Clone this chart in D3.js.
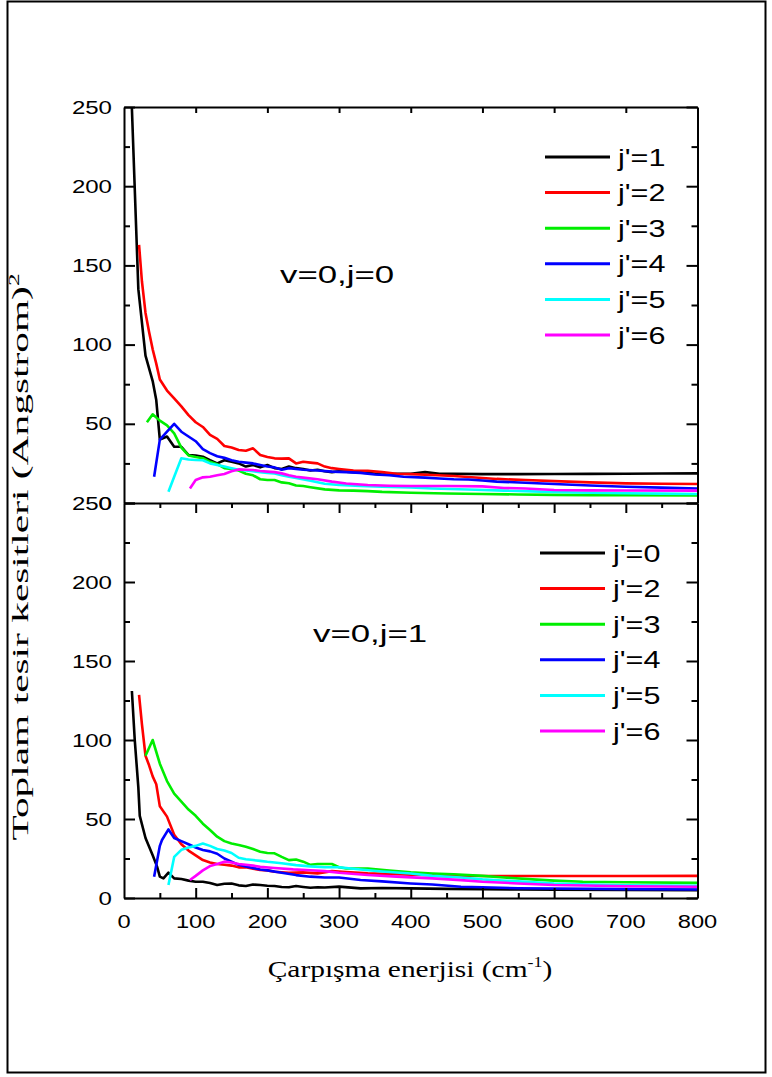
<!DOCTYPE html>
<html>
<head>
<meta charset="utf-8">
<script src="https://cdn.jsdelivr.net/npm/d3@7"></script>
<style>
  html, body { margin: 0; padding: 0; background: #fff; }
  svg { display: block; }
</style>
</head>
<body>
<svg id="chart" width="772" height="1077"></svg>
<script>
// ---------------- DATA ----------------
// x: collision energy (cm^-1), y: total cross section (Angstrom^2)
const yTickLabels = [0, 50, 100, 150, 200, 250];
const xTickLabels = [0, 100, 200, 300, 400, 500, 600, 700, 800];

const topTitle = "v=0,j=0";
const topLegend = ["j'=1", "j'=2", "j'=3", "j'=4", "j'=5", "j'=6"];
const bottomTitle = "v=0,j=1";
const bottomLegend = ["j'=0", "j'=2", "j'=3", "j'=4", "j'=5", "j'=6"];
const seriesColors = ["#000000", "#ff0000", "#00ee00", "#0000ff", "#00ffff", "#ff00ff"];

// Panel 1 (v=0, j=0)
const top_j1 = [[10,262],[20,135],[30,93],[40,77],[45,65],[50,40],[60,42],[70,35.5],[80,35.5],[90,30.3],[100,30],[110,29.2],[120,27],[130,25],[140,27],[150,26],[160,25],[170,23],[180,24],[190,22.5],[200,24],[210,22],[220,21.5],[230,23],[240,22],[250,21.5],[260,20.5],[270,21],[280,20],[290,19.5],[300,20],[320,19.5],[340,19],[360,18],[380,18.5],[400,18.5],[420,19.5],[440,18.5],[460,18.5],[500,18.2],[550,18.2],[600,18.3],[650,18.4],[700,18.5],[750,18.6],[800,18.7]];
const top_j2 = [[21,163],[25,140],[30,120],[35,108],[40,97],[45,88],[50,78],[60,71],[70,66],[80,61],[90,55.5],[100,51],[110,48],[120,43],[130,40.5],[140,36],[150,35],[160,33.5],[170,33],[180,34.5],[190,30.3],[200,29],[210,28.2],[220,28],[230,28.2],[240,25],[250,26],[260,25.5],[270,25],[280,23],[290,22],[300,21.5],[320,20.5],[340,20.4],[360,19.5],[380,18.5],[400,18.2],[430,17.7],[460,17],[480,16.4],[520,15.2],[560,14.5],[600,13.8],[650,13],[700,12.4],[750,12.2],[800,12]];
const top_j3 = [[32,51],[40,56],[50,52],[60,49],[70,44],[80,35],[90,30],[100,29],[110,28.3],[120,26],[130,24.5],[140,22],[150,21.5],[160,20.5],[170,18.5],[180,17.5],[190,15],[200,14.5],[210,14.5],[220,13],[230,12.5],[240,11],[250,10.7],[260,10],[280,8.6],[300,8],[320,7.8],[340,7.5],[360,7],[400,6.5],[450,6],[500,5.7],[550,5.4],[600,5.1],[650,5],[700,4.9],[800,4.8]];
const top_j4 = [[42,16.6],[50,40],[60,45],[70,50],[80,45],[90,42],[100,39],[110,34],[120,31.5],[130,29.5],[140,28.5],[150,27],[160,26],[170,25.5],[180,25],[190,24],[200,23],[210,22.5],[220,21],[230,22],[240,21.5],[250,21],[270,20.5],[290,19.8],[310,19.5],[330,19],[350,18],[370,17.5],[390,16.6],[420,16],[440,15.5],[460,15],[480,14.8],[500,14.2],[520,13.5],[560,12.8],[600,12],[650,11],[700,10.3],[750,9.7],[800,9.2]];
const top_j5 = [[62,7.1],[70,16.6],[80,28.2],[90,27.5],[100,27.1],[110,27],[120,25],[130,24],[140,23],[150,22],[160,21],[170,20.5],[180,20],[190,19.5],[200,19],[210,18.7],[220,17.5],[230,16.6],[240,15.8],[260,14],[280,12.2],[300,11.4],[330,10.8],[360,10.3],[400,9.8],[430,9.2],[480,8.5],[530,7.8],[580,7.2],[630,6.6],[700,6.2],[750,5.9],[800,5.7]];
const top_j6 = [[92,9.2],[100,14.5],[110,16.2],[120,16.6],[130,17.5],[140,18.3],[150,20],[160,21.2],[170,21],[180,20.8],[190,20.2],[200,19.8],[210,19.5],[220,18.7],[230,17.5],[240,16.6],[250,16],[270,15],[290,13.5],[310,12.3],[340,11.4],[370,10.9],[400,10.7],[450,10.7],[500,10.5],[530,9.5],[560,9.2],[600,8.2],[650,8],[700,7.9],[800,7.8]];

// Panel 2 (v=0, j=1)
const bot_j0 = [[11,131],[15,100],[20,70],[22,52],[30,38],[40,27],[46,20],[50,13.5],[55,12.4],[62,16],[70,12.4],[80,12],[90,11],[100,10.3],[110,10.3],[120,9.5],[130,8.2],[140,9],[150,9.2],[160,8],[170,7.6],[180,8.5],[190,8.2],[200,7.8],[210,7.6],[220,7],[230,6.8],[240,7.6],[250,7],[260,6.5],[270,6.8],[280,6.6],[300,7.2],[330,6.1],[360,6.3],[400,6.1],[450,5.8],[500,5.6],[550,5.4],[600,5.3],[700,5.1],[800,5]];
const bot_j2 = [[21,128.5],[25,110],[30,90],[35,84],[40,77],[45,72],[50,58],[60,51.5],[70,40],[80,34],[90,30],[100,27],[110,24],[120,22.5],[130,21.5],[140,21],[150,20.5],[160,19.4],[170,19.4],[180,18.5],[190,17.7],[200,17.5],[210,16.6],[230,16],[250,16.2],[270,15.6],[290,17],[310,16.5],[340,15.6],[370,15.2],[400,14.8],[450,14.2],[500,13.9],[600,13.9],[700,13.9],[800,14]];
const bot_j3 = [[30,90],[40,100],[50,85],[60,74],[70,66],[80,61],[90,56],[100,52],[110,47],[120,43],[130,38.8],[140,36],[150,34.5],[160,33.5],[170,32.4],[180,31],[190,29.3],[200,28.5],[210,28.3],[220,26],[230,24],[240,24.4],[250,23],[260,21],[270,21.5],[280,21.5],[290,21.5],[300,19.5],[310,18.7],[340,18.7],[370,17.3],[400,16.2],[430,15.5],[460,15],[500,14],[530,13],[570,11.8],[600,11],[640,10.3],[700,10],[800,9.6]];
const bot_j4 = [[42,13.5],[50,33],[53,36.7],[62,43.4],[70,38],[80,36],[90,34],[100,32],[110,30.4],[120,29.5],[130,28],[140,25],[150,23],[160,21],[170,20],[180,19],[190,18],[200,17.5],[220,16],[240,14.5],[260,13.5],[280,13],[300,13],[330,11.4],[360,10.5],[400,9.2],[430,8.5],[470,7.1],[500,6.8],[550,6.2],[600,6],[700,5.6],[800,5.4]];
const bot_j5 = [[62,8.2],[70,26],[80,30.5],[90,32],[100,33],[110,34.5],[120,33],[130,31],[140,30],[150,28.5],[160,25.5],[170,24.5],[180,24],[190,23.5],[200,22.9],[220,22],[240,20.8],[260,20],[280,19.5],[300,19.5],[330,18],[360,16.8],[400,15.5],[430,14],[470,13],[500,11.8],[550,10.5],[600,9.2],[650,8.5],[700,8],[800,7.7]];
const bot_j6 = [[92,11.4],[100,14],[110,17.5],[120,20.2],[130,21.5],[140,23],[150,22.5],[160,21.5],[170,21],[180,20.5],[190,19.7],[210,19],[236,18.1],[260,17.6],[280,17],[300,16],[340,14.6],[380,13.5],[430,12.4],[470,11.3],[500,10.3],[550,9.2],[600,8.2],[700,7.4],[800,7.1]];

const topSeries = [top_j1, top_j2, top_j3, top_j4, top_j5, top_j6];
const bottomSeries = [bot_j0, bot_j2, bot_j3, bot_j4, bot_j5, bot_j6];

// ---------------- LAYOUT ----------------
const svg = d3.select("#chart");
const X0 = 124, X1 = 697.5;
const TOP = {y0: 503, y1: 107};
const BOT = {y0: 898, y1: 503};
const SANS = "'Liberation Sans', Arial, sans-serif";
const SERIF = "'Liberation Serif', 'Times New Roman', serif";
const SX = 1.3; // horizontal text stretch seen in the reference

const x = d3.scaleLinear().domain([0, 800]).range([X0, X1]);

// page frame
svg.append("rect").attr("x", 7.5).attr("y", 1.5).attr("width", 758).attr("height", 1071)
  .attr("fill", "none").attr("stroke", "#000").attr("stroke-width", 2);

function stext(parent, px, py, str, o) {
  const g = parent.append("g")
    .attr("transform", `translate(${px},${py}) rotate(${o.rotate || 0}) scale(${o.sx || SX},1)`);
  const t = g.append("text")
    .attr("text-anchor", o.anchor || "start")
    .style("font-family", o.family || SANS)
    .style("font-size", o.size + "px")
    .attr("fill", "#000")
    .text(str);
  return t;
}

function styleAxis(g, w) {
  g.selectAll("path.domain").attr("stroke", "#000").attr("stroke-width", 2);
  g.selectAll(".tick line").attr("stroke", "#000").attr("stroke-width", w || 2);
}

const majorY = d3.range(0, 251, 50);
const minorY = d3.range(25, 250, 50);
const majorX = d3.range(0, 801, 100);
const minorX = d3.range(50, 800, 100);

function panel(P, series, legend, title, titlePos, legendPos, isTop) {
  const y = d3.scaleLinear().domain([0, 250]).range([P.y0, P.y1]);
  const clipId = "clip" + (isTop ? "T" : "B");
  svg.append("clipPath").attr("id", clipId).append("rect")
    .attr("x", X0).attr("y", P.y1).attr("width", X1 - X0).attr("height", P.y0 - P.y1);

  // series lines
  const line = d3.line().x(d => x(d[0])).y(d => y(d[1]));
  const lg = svg.append("g").attr("clip-path", `url(#${clipId})`);
  series.forEach((s, i) => {
    lg.append("path").datum(s).attr("d", line)
      .attr("fill", "none").attr("stroke", seriesColors[i])
      .attr("stroke-width", 2.6).attr("stroke-linejoin", "round");
  });

  // left axis
  const la = svg.append("g").attr("transform", `translate(${X0},0)`)
    .call(d3.axisLeft(y).tickValues(majorY).tickSize(-11).tickSizeOuter(0).tickFormat(""));
  styleAxis(la);
  const lm = svg.append("g").attr("transform", `translate(${X0},0)`)
    .call(d3.axisLeft(y).tickValues(minorY).tickSize(-6).tickSizeOuter(0).tickFormat(""));
  styleAxis(lm); lm.select("path.domain").remove();
  // right axis
  const ra = svg.append("g").attr("transform", `translate(${X1},0)`)
    .call(d3.axisRight(y).tickValues(majorY).tickSize(-11).tickSizeOuter(0).tickFormat(""));
  styleAxis(ra);
  const rm = svg.append("g").attr("transform", `translate(${X1},0)`)
    .call(d3.axisRight(y).tickValues(minorY).tickSize(-6).tickSizeOuter(0).tickFormat(""));
  styleAxis(rm); rm.select("path.domain").remove();

  // top axis (ticks pointing down into panel)
  if (isTop) {
    const ta = svg.append("g").attr("transform", `translate(0,${P.y1})`)
      .call(d3.axisTop(x).tickValues(majorX.slice(1, 8)).tickSize(-6).tickSizeOuter(0).tickFormat(""));
    styleAxis(ta);
  } else {
    const ta = svg.append("g").attr("transform", `translate(0,${P.y1})`)
      .call(d3.axisTop(x).tickValues(majorX.slice(1, 8)).tickSize(-10).tickSizeOuter(0).tickFormat(""));
    styleAxis(ta);
    const tm = svg.append("g").attr("transform", `translate(0,${P.y1})`)
      .call(d3.axisTop(x).tickValues(minorX).tickSize(-5).tickSizeOuter(0).tickFormat(""));
    styleAxis(tm); tm.select("path.domain").remove();
    // bottom axis
    const ba = svg.append("g").attr("transform", `translate(0,${P.y0})`)
      .call(d3.axisBottom(x).tickValues(majorX.slice(1, 8)).tickSize(-10).tickSizeOuter(0).tickFormat(""));
    styleAxis(ba);
    const bm = svg.append("g").attr("transform", `translate(0,${P.y0})`)
      .call(d3.axisBottom(x).tickValues(minorX).tickSize(-5).tickSizeOuter(0).tickFormat(""));
    styleAxis(bm); bm.select("path.domain").remove();
    // x tick labels
    xTickLabels.forEach(v => {
      stext(svg, x(v), P.y0 + 30, String(v), {size: 18.5, anchor: "middle", sx: 1.28});
    });
  }

  // y tick labels
  yTickLabels.forEach(v => {
    stext(svg, 112, y(v) + 6.5, String(v), {size: 18.5, anchor: "end", sx: 1.3});
  });

  // annotation
  stext(svg, titlePos[0], titlePos[1], title, {size: 24, anchor: "start", sx: 1.45});

  // legend
  legend.forEach((name, i) => {
    const ly = legendPos[1] + i * 35.6;
    svg.append("line").attr("x1", legendPos[0]).attr("x2", legendPos[0] + 65)
      .attr("y1", ly).attr("y2", ly)
      .attr("stroke", seriesColors[i]).attr("stroke-width", 3);
    stext(svg, legendPos[0] + 73, ly + 8.5, name, {size: 23.5, anchor: "start", sx: 1.3});
  });
}

panel(TOP, topSeries, topLegend, topTitle, [280, 283], [545, 157], true);
panel(BOT, bottomSeries, bottomLegend, bottomTitle, [313, 642], [540, 553], false);

// Y axis title (rotated)
const yt = stext(svg, 28, 557, "Toplam tesir kesitleri (Angstrom)", {size: 23, anchor: "middle", family: SERIF, rotate: -90, sx: 1.8});
yt.append("tspan").attr("dy", -9).style("font-size", "14px").text("2");

// X axis title
const xt = stext(svg, 410, 977, "Çarpışma enerjisi (cm", {size: 23, anchor: "middle", family: SERIF, sx: 1.28});
xt.append("tspan").attr("dy", -10).style("font-size", "14px").text("-1");
xt.append("tspan").attr("dy", 10).text(")");
</script>
</body>
</html>
